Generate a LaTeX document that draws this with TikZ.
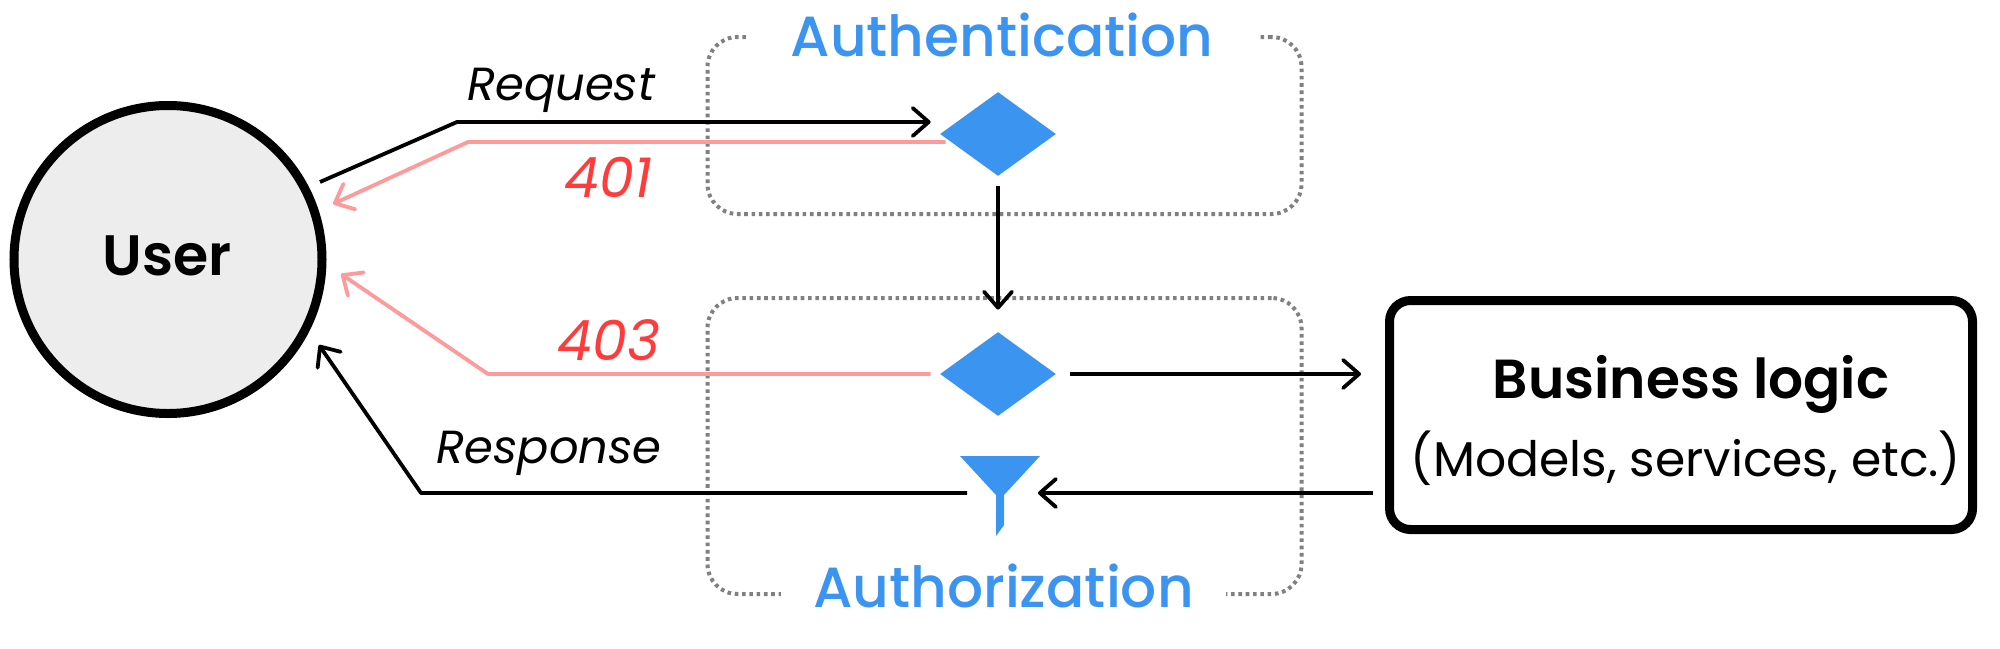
\documentclass[tikz,border=0pt]{standalone}
\usepackage{fontspec}
\setmainfont{Poppins}
\IfFontExistsTF{Poppins SemiBold}{\newfontfamily\semib{Poppins SemiBold}}{\IfFontExistsTF{Poppins Medium}{\newfontfamily\semib{Poppins Medium}}{\newcommand\semib{\bfseries}}}
\IfFontExistsTF{Poppins Medium}{\newfontfamily\medw{Poppins Medium}}{\newcommand\medw{}}
\usetikzlibrary{arrows.meta,shapes.geometric}
\definecolor{ablue}{RGB}{59,148,240}
\definecolor{apink}{RGB}{255,154,154}
\definecolor{ared}{RGB}{255,59,59}
\definecolor{agray}{RGB}{128,128,128}
\definecolor{cfill}{RGB}{237,237,237}
\newcommand{\myfs}[1]{\fontsize{#1}{#1}\selectfont}
\tikzset{
  arr/.style={line width=1.9pt, line join=round, -{Straight Barb[length=8pt,width=14pt,round]}},
  parr/.style={arr, draw=apink},
  dotbox/.style={draw=agray, line width=2pt, dash pattern=on 1.8pt off 1.85pt, rounded corners=15pt, inner sep=0pt},
  gem/.style={diamond, fill=ablue, draw=none, inner sep=0pt, minimum width=58pt, minimum height=42pt},
  title/.style={fill=white, text=ablue, inner ysep=2pt, inner xsep=0pt, font=\myfs{28.3pt}\medw, anchor=base},
  lbl/.style={anchor=base, inner sep=0pt, font=\myfs{23.2pt}\itshape},
  code/.style={anchor=base, inner sep=0pt, text=ared, font=\myfs{27.8pt}\itshape},
}
\begin{document}
\begin{tikzpicture}[x=0.5pt,y=-0.5pt]
\useasboundingbox (0,0) rectangle (2000,648);
% boxes
\node[dotbox, minimum width=297pt, minimum height=88.5pt] (authbox) at (1004.5,125.5) {};
\node[dotbox, minimum width=297pt, minimum height=148pt] (authzbox) at (1004.5,446) {};
\node[title, minimum width=256pt] (authtitle) at (1002,56) {Authentication};
\node[title, minimum width=222.5pt] (authztitle) at (1003.5,607) {Authorization};
% user
\node[circle, draw, line width=4.5pt, fill=cfill, minimum size=154pt, inner sep=0pt] (user) at (168,259.5) {};
\node[anchor=base, inner sep=0pt, font=\myfs{28.5pt}\semib] (usertext) at (167,275) {User};
% gems
\node[gem] (d1) at (998,134) {};
\node[gem] (d2) at (998,374) {};
% funnel
\coordinate (fun) at (1000,493);
\fill[ablue] (960,456) -- (1040,456) -- (1004,495) -- (1004,525) -- (996,536) -- (996,495) -- cycle;
% business
\node[draw, line width=4.5pt, rounded corners=10.5pt, minimum width=291.5pt, minimum height=114.5pt, inner sep=0pt] (biz) at (1681,415) {};
\node[anchor=base, inner sep=0pt, font=\myfs{27.5pt}\semib] (biztitle) at (1691,398) {Business logic};
\node[anchor=base, inner sep=0pt, font=\myfs{24.4pt}] (bizsub) at (1686,476) {(Models, services, etc.)};
% connectors
\coordinate (rqA) at (320,182);
\coordinate (rqB) at (457,122);
\draw[arr, shorten >=4.5pt] (rqA) -- (rqB) -- (rqB -| d1.west);
\coordinate (e1B) at (468,142);
\coordinate (e1C) at (333,204);
\draw[parr, shorten <=-3pt] (e1B -| d1.west) -- (e1B) -- (e1C);
\draw[arr, shorten <=5pt, shorten >=11pt] (d1.south) -- (d2.north);
\coordinate (e3B) at (488,374);
\coordinate (e3C) at (341,274);
\draw[parr, shorten <=4.5pt] (d2.west) -- (e3B) -- (e3C);
\draw[arr, shorten <=7pt, shorten >=12pt] (d2.east) -- (d2.east -| biz.west);
\draw[arr, shorten <=6pt, shorten >=19pt] (biz.west |- fun) -- (fun);
\coordinate (rsB) at (421,493);
\coordinate (rsC) at (319,345);
\draw[arr, shorten <=16.5pt] (fun) -- (rsB) -- (rsC);
% labels
\node[lbl] (lreq) at (561,100) {Request};
\node[code] (l401) at (608,197) {401};
\node[code] (l403) at (609,360) {403};
\node[lbl] (lresp) at (549,463) {Response};
\end{tikzpicture}
\end{document}
